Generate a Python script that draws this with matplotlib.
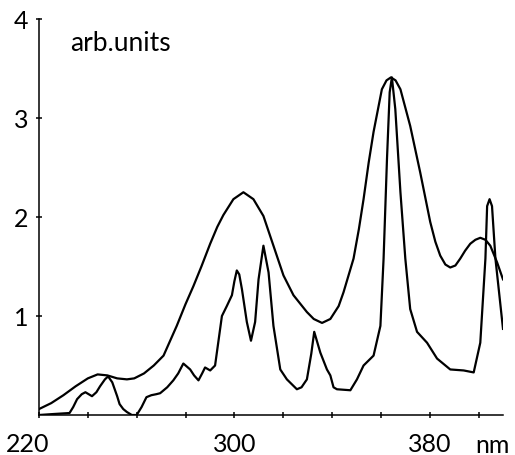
import matplotlib
matplotlib.use("Agg")
import matplotlib.pyplot as plt
from matplotlib.transforms import ScaledTranslation

plt.rcParams['font.family'] = ['Lato', 'DejaVu Sans']

# broad band (nm, arb. units)
broad_nm = [220, 225, 230, 235, 240, 244, 248, 252, 256, 259, 263, 267, 271,
            276.4, 280, 283.2, 286.5, 290.1, 293, 295.5, 299.6, 303.7, 307.8,
            311.9, 316, 320.1, 324.2, 329.7, 332.5, 335.9, 339.3, 342.7, 344.7,
            348.8, 351, 352.9, 355, 357, 360.4, 362.3, 364.1, 366, 368, 372,
            376.1, 380.2, 382.3, 384.3, 386.4, 388.4, 390.5, 392.5, 394.5,
            396.6, 398.7, 400.7, 402.8, 404.8, 407.6, 410]
broad_y = [0.06, 0.12, 0.2, 0.29, 0.37, 0.41, 0.40, 0.37, 0.36, 0.37, 0.42, 0.5, 0.6,
           0.9, 1.12, 1.3, 1.5, 1.73, 1.9, 2.02, 2.18, 2.25, 2.18,
           2.01, 1.71, 1.41, 1.21, 1.04, 0.97, 0.93, 0.97, 1.10, 1.24,
           1.58, 1.88, 2.18, 2.55, 2.86, 3.29, 3.38, 3.41, 3.38, 3.29, 2.92,
           2.45, 1.95, 1.75, 1.61, 1.52, 1.49, 1.51, 1.58, 1.66,
           1.73, 1.77, 1.79, 1.77, 1.71, 1.54, 1.37]

# resolved spectrum (nm, arb. units)
sharp_nm = [220, 226, 232.5, 234, 235.6, 237.5, 239, 241.7, 243.5, 245, 247, 248.3,
            250, 252, 253, 254.5, 256, 258, 260, 262, 264, 266, 268, 269.6, 272.5,
            275, 277, 279.1, 281.9, 283.5, 285.3, 286.8, 288, 290.1, 292.1, 293.5,
            294.9, 296.9, 299, 300, 301, 302, 303.1, 305.1, 306.8, 308.5, 309.9,
            311.9, 314, 316, 318.8, 321.5, 325.6, 327.5, 329.7, 331.5, 332.7,
            335.2, 337.9, 339.3, 340.6, 342, 347.5, 350.2, 352.9, 357, 359.8,
            361.1, 362.5, 363.6, 364.5, 365.9, 368, 370, 372, 374.8, 378.9, 383,
            388.4, 393.9, 398, 400.7, 402.8, 403.5, 404.5, 405.5, 406.9, 410]
sharp_y = [0.0, 0.01, 0.02, 0.08, 0.16, 0.21, 0.23, 0.19, 0.23, 0.29, 0.36, 0.39,
           0.33, 0.19, 0.11, 0.06, 0.03, 0.0, 0.0, 0.08, 0.18, 0.2, 0.21, 0.22, 0.28,
           0.35, 0.42, 0.52, 0.46, 0.40, 0.35, 0.42, 0.48, 0.45, 0.5, 0.75,
           1.0, 1.1, 1.21, 1.35, 1.46, 1.42, 1.27, 0.94, 0.75, 0.94, 1.37,
           1.71, 1.44, 0.9, 0.46, 0.36, 0.26, 0.28, 0.36, 0.62, 0.84,
           0.63, 0.46, 0.40, 0.28, 0.26, 0.25, 0.36, 0.5, 0.6, 0.9,
           1.58, 2.59, 3.26, 3.41, 3.09, 2.25, 1.58, 1.07, 0.84, 0.73, 0.57,
           0.46, 0.45, 0.43, 0.73, 1.58, 2.11, 2.18, 2.11, 1.58, 0.87]

x_ticks = [220, 240, 260, 280, 300, 320, 340, 360, 380, 400]
x_labels = ['220', '', '', '', '300', '', '', '', '380', '']
y_ticks = [1, 2, 3, 4]

fig = plt.figure(figsize=(5.15, 4.56), dpi=100)
ax = fig.add_axes([39 / 515, 40 / 456, 464 / 515, 396 / 456])

ax.plot(broad_nm, broad_y, color='black', lw=1.6, solid_joinstyle='round')
ax.plot(sharp_nm, sharp_y, color='black', lw=1.6, solid_joinstyle='round')

ax.set_xlim(220, 410)
ax.set_ylim(0, 4)
ax.spines['top'].set_visible(False)
ax.spines['right'].set_visible(False)
ax.spines['left'].set_linewidth(1.1)
ax.spines['bottom'].set_linewidth(1.1)

ax.set_xticks(x_ticks)
ax.set_xticklabels(x_labels)
ax.set_yticks(y_ticks)
ax.set_yticklabels([str(v) for v in y_ticks])
ax.tick_params(axis='both', direction='inout', length=5, width=1.1,
               labelsize=18)
ax.tick_params(axis='x', pad=10)
ax.tick_params(axis='y', pad=5)

# the first x label sits a little left of its tick in the original
first = ax.get_xticklabels()[0]
first.set_transform(first.get_transform() +
                    ScaledTranslation(-0.11, 0, fig.dpi_scale_trans))

ax.text(0.068, 0.94, 'arb.units', transform=ax.transAxes, fontsize=19,
        ha='left', va='center')
ax.text(0.94, -0.075, 'nm', transform=ax.transAxes, fontsize=18,
        ha='left', va='center')

fig.savefig('out.png', dpi=100)
